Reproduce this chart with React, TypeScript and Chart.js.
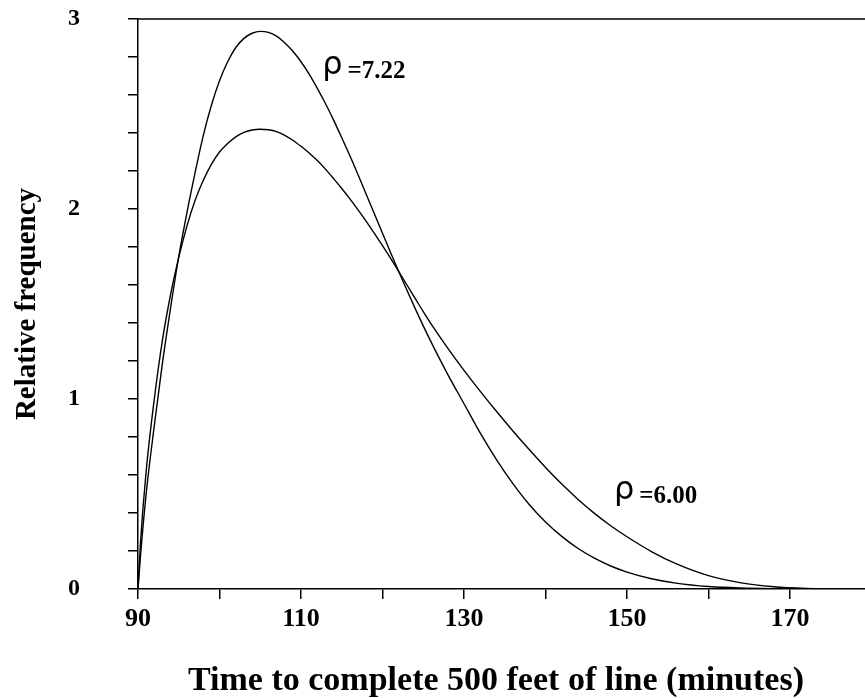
import React, { useEffect, useRef } from "react";
import { Chart, registerables } from "chart.js";

Chart.register(...registerables);

// Time (minutes)
const timeMinutes = [
  90, 90.3, 91, 92, 93, 94, 95, 96, 97, 98, 99, 100, 101, 102, 103, 104, 105, 106, 107, 108, 109,
  110, 111, 112, 113, 114, 115, 116, 117, 118, 119, 120, 121, 122, 123, 124, 125, 126, 128, 130,
  132, 134, 136, 138, 140, 142, 144, 146, 148, 150, 153, 156, 160, 164, 168, 172, 176, 180,
];

// Relative frequency, rho = 7.22
const freqRho722 = [
  0, 0.17, 0.5, 0.86, 1.19, 1.48, 1.75, 1.98, 2.19, 2.385, 2.545, 2.675, 2.775, 2.85, 2.898, 2.925,
  2.935, 2.93, 2.91, 2.875, 2.83, 2.775, 2.71, 2.635, 2.555, 2.468, 2.375, 2.28, 2.18, 2.078, 1.975,
  1.872, 1.77, 1.67, 1.572, 1.477, 1.385, 1.297, 1.13, 0.975, 0.82, 0.68, 0.555, 0.445, 0.353,
  0.277, 0.213, 0.162, 0.121, 0.089, 0.054, 0.031, 0.013, 0.005, 0.0015, 0, 0, 0,
];

// Relative frequency, rho = 6.00
const freqRho600 = [
  0, 0.24, 0.62, 1.0, 1.31, 1.55, 1.745, 1.91, 2.045, 2.15, 2.235, 2.3, 2.345, 2.38, 2.403, 2.416,
  2.42, 2.417, 2.407, 2.388, 2.362, 2.33, 2.295, 2.255, 2.21, 2.16, 2.108, 2.053, 1.995, 1.935,
  1.872, 1.807, 1.74, 1.671, 1.6, 1.53, 1.46, 1.393, 1.268, 1.151, 1.04, 0.934, 0.832, 0.734, 0.64,
  0.552, 0.471, 0.398, 0.333, 0.275, 0.197, 0.133, 0.07, 0.032, 0.012, 0.003, 0, 0,
];

const xTickValues = [90, 100, 110, 120, 130, 140, 150, 160, 170];
const xTickLabels = ["90", "", "110", "", "130", "", "150", "", "170"];
const yTickValues = [0, 0.2, 0.4, 0.6, 0.8, 1, 1.2, 1.4, 1.6, 1.8, 2, 2.2, 2.4, 2.6, 2.8, 3];
const yTickLabels = ["0", "", "", "", "", "1", "", "", "", "", "2", "", "", "", "", "3"];

const seriesNames = ["7.22", "6.00"];
const seriesLabelX = [112.6, 148.4];
const seriesLabelY = [2.71, 0.475];

const xTitle = "Time to complete 500 feet of line (minutes)";
const yTitle = "Relative frequency";

const SERIF = "'Liberation Serif', 'Times New Roman', Times, serif";
const SANS = "'DejaVu Sans', 'Liberation Sans', sans-serif";

export default function App() {
  const canvasRef = useRef<HTMLCanvasElement | null>(null);

  useEffect(() => {
    const canvas = canvasRef.current;
    if (!canvas) return;

    const decorPlugin = {
      id: "decor",
      afterDraw(chart: any) {
        const { ctx, chartArea } = chart;
        const xs = chart.scales.x;
        const ys = chart.scales.y;
        ctx.save();
        // top frame line
        ctx.strokeStyle = "#000";
        ctx.lineWidth = 1.5;
        ctx.beginPath();
        ctx.moveTo(chartArea.left, chartArea.top);
        ctx.lineTo(chartArea.right, chartArea.top);
        ctx.stroke();

        ctx.fillStyle = "#000";
        // x title
        ctx.font = `bold 34px ${SERIF}`;
        ctx.textAlign = "center";
        ctx.textBaseline = "alphabetic";
        ctx.fillText(xTitle, 496, 690);

        // y title
        ctx.save();
        ctx.translate(35, (chartArea.top + chartArea.bottom) / 2);
        ctx.rotate(-Math.PI / 2);
        ctx.font = `bold 29px ${SERIF}`;
        ctx.textAlign = "center";
        ctx.textBaseline = "alphabetic";
        ctx.fillText(yTitle, 0, 0);
        ctx.restore();

        // rho annotations
        ctx.textAlign = "left";
        ctx.textBaseline = "alphabetic";
        for (let i = 0; i < seriesNames.length; i++) {
          const px = xs.getPixelForValue(seriesLabelX[i]);
          const py = ys.getPixelForValue(seriesLabelY[i]);
          ctx.font = `32px ${SANS}`;
          ctx.fillText("\u03C1", px, py);
          const w = ctx.measureText("\u03C1").width;
          ctx.font = `bold 25px ${SERIF}`;
          ctx.fillText("=" + seriesNames[i], px + w + 5, py + 4);
        }
        ctx.restore();
      },
    };

    const chart = new Chart(canvas, {
      type: "line",
      data: {
        datasets: [
          {
            label: "rho = 7.22",
            data: timeMinutes.map((t, i) => ({ x: t, y: freqRho722[i] })),
            borderColor: "#000",
            borderWidth: 1.4,
            pointRadius: 0,
            fill: false,
            cubicInterpolationMode: "monotone",
          },
          {
            label: "rho = 6.00",
            data: timeMinutes.map((t, i) => ({ x: t, y: freqRho600[i] })),
            borderColor: "#000",
            borderWidth: 1.4,
            pointRadius: 0,
            fill: false,
            cubicInterpolationMode: "monotone",
          },
        ],
      },
      options: {
        responsive: false,
        animation: false,
        devicePixelRatio: 1,
        layout: { padding: { left: 0, right: 0, top: 19, bottom: 0 } },
        plugins: {
          legend: { display: false },
          tooltip: { enabled: false },
          title: { display: false },
        },
        scales: {
          x: {
            type: "linear",
            min: 90,
            max: 179.2,
            afterBuildTicks: (scale: any) => {
              scale.ticks = xTickValues.map((v) => ({ value: v }));
            },
            afterFit: (scale: any) => {
              scale.height = 109;
              scale.paddingLeft = 0;
              scale.paddingRight = 0;
            },
            ticks: {
              autoSkip: false,
              maxRotation: 0,
              color: "#000",
              padding: 5,
              font: { family: SERIF, size: 26, weight: "bold" },
              callback: (_v: any, index: number) => xTickLabels[index],
            },
            grid: {
              display: true,
              drawOnChartArea: false,
              drawTicks: true,
              tickLength: 10,
              color: "#000",
              lineWidth: 1.5,
            },
            border: { display: true, color: "#000", width: 1.5 },
          },
          y: {
            type: "linear",
            min: 0,
            max: 3,
            afterBuildTicks: (scale: any) => {
              scale.ticks = yTickValues.map((v) => ({ value: v }));
            },
            afterFit: (scale: any) => {
              scale.width = 138;
              scale.paddingTop = 0;
              scale.paddingBottom = 0;
            },
            ticks: {
              autoSkip: false,
              color: "#000",
              padding: 48,
              font: { family: SERIF, size: 24, weight: "bold" },
              callback: (_v: any, index: number) => yTickLabels[index],
            },
            grid: {
              display: true,
              drawOnChartArea: false,
              drawTicks: true,
              tickLength: 10,
              color: "#000",
              lineWidth: 1.5,
            },
            border: { display: true, color: "#000", width: 1.5 },
          },
        },
      },
      plugins: [decorPlugin],
    });

    return () => {
      chart.destroy();
    };
  }, []);

  return (
    <div style={{ position: "fixed", left: 0, top: 0, width: 865, height: 698, background: "#fff" }}>
      <canvas ref={canvasRef} width={865} height={698} style={{ display: "block" }} />
    </div>
  );
}
